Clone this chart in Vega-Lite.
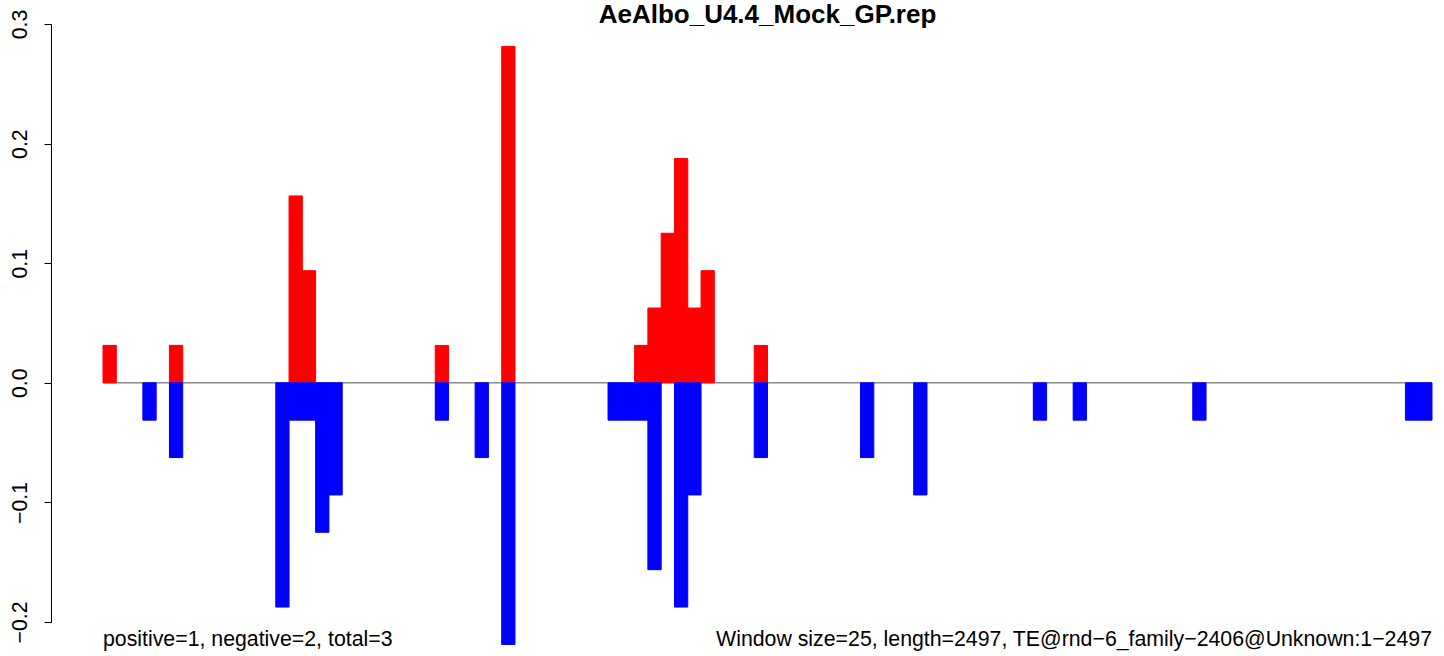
{
  "$schema": "https://vega.github.io/schema/vega-lite/v6.json",
  "autosize": "none",
  "width": 1329,
  "height": 598,
  "padding": {"left": 103, "top": 24, "right": 12, "bottom": 34},
  "background": "white",
  "config": {"view": {"stroke": null}, "font": "Liberation Sans"},
  "title": {"text": "AeAlbo_U4.4_Mock_GP.rep", "font": "Liberation Sans", "fontSize": 26, "fontWeight": "bold", "color": "black", "anchor": "middle", "frame": "group", "baseline": "alphabetic", "offset": -40},
  "datasets": {
    "bars": [
      {"start": 0, "end": 25, "value": 0.03125, "strand": "plus"},
      {"start": 125, "end": 150, "value": 0.03125, "strand": "plus"},
      {"start": 350, "end": 375, "value": 0.15625, "strand": "plus"},
      {"start": 375, "end": 400, "value": 0.09375, "strand": "plus"},
      {"start": 625, "end": 650, "value": 0.03125, "strand": "plus"},
      {"start": 750, "end": 775, "value": 0.28125, "strand": "plus"},
      {"start": 1000, "end": 1025, "value": 0.03125, "strand": "plus"},
      {"start": 1025, "end": 1050, "value": 0.0625, "strand": "plus"},
      {"start": 1050, "end": 1075, "value": 0.125, "strand": "plus"},
      {"start": 1075, "end": 1100, "value": 0.1875, "strand": "plus"},
      {"start": 1100, "end": 1125, "value": 0.0625, "strand": "plus"},
      {"start": 1125, "end": 1150, "value": 0.09375, "strand": "plus"},
      {"start": 1225, "end": 1250, "value": 0.03125, "strand": "plus"},
      {"start": 75, "end": 100, "value": -0.03125, "strand": "minus"},
      {"start": 125, "end": 150, "value": -0.0625, "strand": "minus"},
      {"start": 325, "end": 350, "value": -0.1875, "strand": "minus"},
      {"start": 350, "end": 375, "value": -0.03125, "strand": "minus"},
      {"start": 375, "end": 400, "value": -0.03125, "strand": "minus"},
      {"start": 400, "end": 425, "value": -0.125, "strand": "minus"},
      {"start": 425, "end": 450, "value": -0.09375, "strand": "minus"},
      {"start": 625, "end": 650, "value": -0.03125, "strand": "minus"},
      {"start": 700, "end": 725, "value": -0.0625, "strand": "minus"},
      {"start": 750, "end": 775, "value": -0.21875, "strand": "minus"},
      {"start": 950, "end": 975, "value": -0.03125, "strand": "minus"},
      {"start": 975, "end": 1000, "value": -0.03125, "strand": "minus"},
      {"start": 1000, "end": 1025, "value": -0.03125, "strand": "minus"},
      {"start": 1025, "end": 1050, "value": -0.15625, "strand": "minus"},
      {"start": 1075, "end": 1100, "value": -0.1875, "strand": "minus"},
      {"start": 1100, "end": 1125, "value": -0.09375, "strand": "minus"},
      {"start": 1225, "end": 1250, "value": -0.0625, "strand": "minus"},
      {"start": 1425, "end": 1450, "value": -0.0625, "strand": "minus"},
      {"start": 1525, "end": 1550, "value": -0.09375, "strand": "minus"},
      {"start": 1750, "end": 1775, "value": -0.03125, "strand": "minus"},
      {"start": 1825, "end": 1850, "value": -0.03125, "strand": "minus"},
      {"start": 2050, "end": 2075, "value": -0.03125, "strand": "minus"},
      {"start": 2450, "end": 2475, "value": -0.03125, "strand": "minus"},
      {"start": 2475, "end": 2500, "value": -0.03125, "strand": "minus"}
    ],
    "notes": [
      {"label": "positive=1, negative=2, total=3", "pos": 0, "side": "left"},
      {"label": "Window size=25, length=2497, TE@rnd\u22126_family\u22122406@Unknown:1\u22122497", "pos": 2500, "side": "right"}
    ]
  },
  "layer": [
    {
      "data": {"values": [{"level": 0}]},
      "mark": {"type": "rule", "color": "#8a8a8a", "strokeWidth": 1.5},
      "encoding": {
        "y": {"field": "level", "type": "quantitative", "scale": {"domain": [-0.2, 0.3], "nice": false, "zero": false}, "axis": {"values": [-0.2, -0.1, 0, 0.1, 0.2, 0.3], "format": ".1f", "title": null, "grid": false, "offset": 52, "tickSize": 7, "tickColor": "black", "domainColor": "black", "labelAngle": -90, "labelAlign": "center", "labelBaseline": "bottom", "labelPadding": 14, "labelFont": "Liberation Sans", "labelFontSize": 21.3, "labelColor": "black", "labelOverlap": false, "labelFlush": false}}
      }
    },
    {
      "data": {"name": "bars"},
      "mark": {"type": "rect", "strokeWidth": 1},
      "encoding": {
        "x": {"field": "start", "type": "quantitative", "scale": {"domain": [0, 2500], "nice": false, "zero": false}, "axis": null},
        "x2": {"field": "end"},
        "y": {"field": "value", "type": "quantitative"},
        "y2": {"datum": 0},
        "color": {"field": "strand", "type": "nominal", "scale": {"domain": ["plus", "minus"], "range": ["#FF0000", "#0000FF"]}, "legend": null},
        "stroke": {"field": "strand", "type": "nominal", "scale": {"domain": ["plus", "minus"], "range": ["#FF0000", "#0000FF"]}, "legend": null}
      }
    },
    {
      "data": {"name": "notes"},
      "transform": [{"filter": "datum.side === 'left'"}],
      "mark": {"type": "text", "align": "left", "baseline": "alphabetic", "dy": 24, "font": "Liberation Sans", "fontSize": 21.3, "color": "black"},
      "encoding": {
        "x": {"field": "pos", "type": "quantitative"},
        "y": {"datum": -0.2},
        "text": {"field": "label"}
      }
    },
    {
      "data": {"name": "notes"},
      "transform": [{"filter": "datum.side === 'right'"}],
      "mark": {"type": "text", "align": "right", "baseline": "alphabetic", "dy": 24, "font": "Liberation Sans", "fontSize": 21.3, "color": "black"},
      "encoding": {
        "x": {"field": "pos", "type": "quantitative"},
        "y": {"datum": -0.2},
        "text": {"field": "label"}
      }
    }
  ]
}
